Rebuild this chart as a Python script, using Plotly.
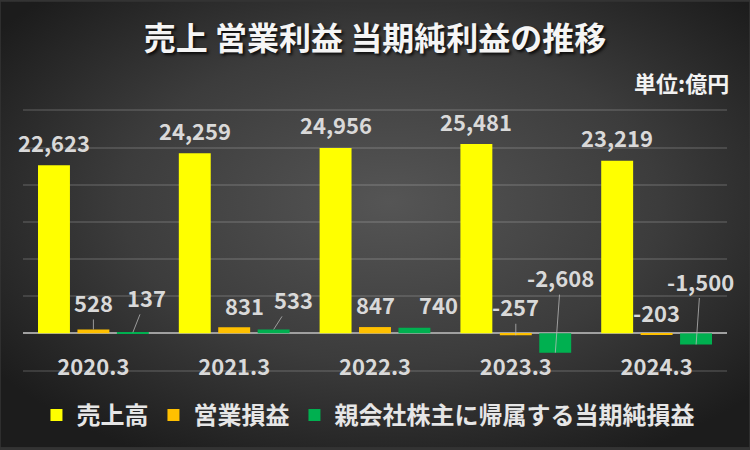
import base64
import plotly.graph_objects as go

# ---- data ----
categories = ["2020.3", "2021.3", "2022.3", "2023.3", "2024.3"]
series_names = ["売上高", "営業損益", "親会社株主に帰属する当期純損益"]
sales = [22623, 24259, 24956, 25481, 23219]
op_income = [528, 831, 847, -257, -203]
net_income = [137, 533, 740, -2608, -1500]

title_text = "売上 営業利益 当期純利益の推移"
unit_text = "単位:億円"

# ---- styles ----
FONT = "Noto Sans CJK JP"
colors = ["#FFFF00", "#FFC000", "#00B050"]
label_color = "#D9D9D9"
SLOT = 39.5  # px between bar centers within a group

label_pos = {
    0: {i: ("plain", 0, 23.5) for i in range(5)},
    1: {0: ("arrow", 0, -27.5), 1: ("plain", 10, 22), 2: ("plain", 0, 23),
        3: ("arrow", 0, -29), 4: ("plain", 0, 23)},
    2: {0: ("arrow", 14, -35.5), 1: ("arrow", 19.5, -30.5), 2: ("plain", 23.5, 24),
        3: ("arrow", 5.5, -75.6), 4: ("arrow", 4.5, -64)},
}

all_series = [sales, op_income, net_income]

fig = go.Figure()
for name, vals, col in zip(series_names, all_series, colors):
    fig.add_trace(go.Bar(x=categories, y=vals, name=name,
                         marker=dict(color=col, line=dict(width=0))))

annotations = []
for s, vals in enumerate(all_series):
    off = (s - 1) * SLOT
    for i, v in enumerate(vals):
        kind, a, b = label_pos[s][i]
        txt = f"{v:,}"
        if kind == "plain":
            annotations.append(dict(x=i, y=v, xref="x", yref="y",
                                    text=txt, showarrow=False,
                                    xshift=off + a, yshift=b,
                                    xanchor="center", yanchor="middle",
                                    font=dict(family=FONT, size=22, color=label_color, weight="bold")))
        else:
            annotations.append(dict(x=i, y=v, xref="x", yref="y",
                                    text=txt, showarrow=True, arrowhead=0,
                                    arrowwidth=1, arrowcolor="rgba(190,190,190,0.75)",
                                    ax=a, ay=b, xshift=off,
                                    font=dict(family=FONT, size=22, color=label_color, weight="bold")))

annotations.append(dict(text=unit_text, xref="paper", yref="paper",
                        x=1.005, y=1.103, xanchor="right", yanchor="middle",
                        showarrow=False,
                        font=dict(family=FONT, size=22, color="#F2F2F2", weight="bold")))

svg = (
    '<svg xmlns="http://www.w3.org/2000/svg" width="750" height="450" viewBox="0 0 750 450" preserveAspectRatio="none">'
    '<defs><radialGradient id="g" cx="52%" cy="45%" r="65%">'
    '<stop offset="0%" stop-color="#555555"/>'
    '<stop offset="55%" stop-color="#3c3c3c"/>'
    '<stop offset="100%" stop-color="#1c1c1c"/>'
    '</radialGradient></defs>'
    '<rect width="750" height="450" fill="url(#g)"/></svg>'
)
src = "data:image/svg+xml;base64," + base64.b64encode(svg.encode()).decode()

YMIN, YMAX = -5200, 30200
L, R, T, B = 22.5, 22.5, 108.5, 76
pw, ph = 750 - L - R, 450 - T - B

fig.update_layout(
    width=750, height=450,
    margin=dict(l=L, r=R, t=T, b=B, pad=0),
    paper_bgcolor="#333333", plot_bgcolor="rgba(0,0,0,0)",
    barmode="group", bargap=0.16, bargroupgap=0.19,
    title=dict(text=title_text, x=0.5, xref="paper", xanchor="center",
               y=1 - 39 / 450, yref="container", yanchor="middle",
               font=dict(family=FONT, size=32, color="#F5F5F5", weight="bold",
                         shadow="2px 2px 3px rgba(0,0,0,0.8)")),
    font=dict(family=FONT, color=label_color),
    showlegend=True,
    legend=dict(orientation="h", x=0.49, xanchor="center", y=-0.165, yanchor="middle",
                font=dict(family=FONT, size=24, color="#E6E6E6", weight="bold"),
                bgcolor="rgba(0,0,0,0)", itemclick=False),
    annotations=annotations,
    images=[dict(source=src, xref="paper", yref="paper",
                 x=-L / pw, y=1 + T / ph, sizex=750 / pw, sizey=450 / ph,
                 xanchor="left", yanchor="top", sizing="stretch", layer="below")],
    xaxis=dict(type="category", range=[-0.5, 4.5], anchor="free",
               position=-YMIN / (YMAX - YMIN),
               showgrid=False, showline=False, zeroline=False,
               ticks="outside", ticklen=14, tickcolor="rgba(0,0,0,0)",
               tickfont=dict(family=FONT, size=22, color=label_color, weight="bold")),
    yaxis=dict(range=[YMIN, YMAX], dtick=5000, tick0=0, showticklabels=False,
               showgrid=True, gridcolor="rgba(255,255,255,0.13)", gridwidth=1.5,
               zeroline=True, zerolinecolor="#A0A0A0", zerolinewidth=1.5,
               showline=False),
)

fig.write_html("out.html")
